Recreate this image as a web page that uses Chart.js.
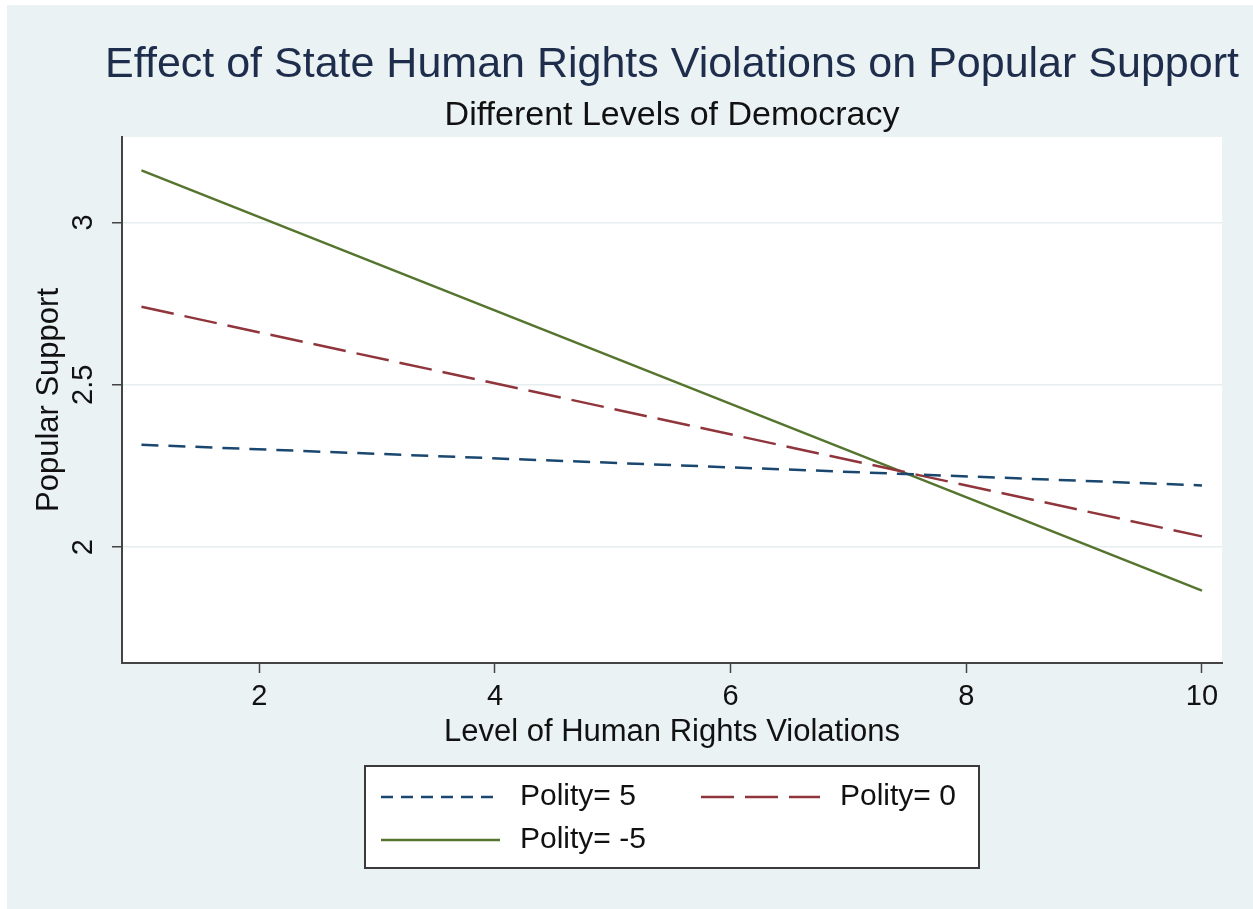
<!DOCTYPE html>
<html>
<head>
<meta charset="utf-8">
<script src="https://cdn.jsdelivr.net/npm/chart.js@4.4.1/dist/chart.umd.min.js"></script>
<style>
    html, body { margin: 0; padding: 0; background: #ffffff; }
    #painel { position: absolute; left: 7px; top: 5px; width: 1246px; height: 904px; background: #eaf2f3; }
</style>
</head>
<body>
<div id="painel"><canvas id="supportChart" width="1246" height="904"></canvas></div>
<script>
// Dados
var xValues = [1, 10];
var polity5 = [2.315, 2.19];
var polity0 = [2.74, 2.033];
var polityNeg5 = [3.16, 1.866];
var seriesNames = ['Polity= 5', 'Polity= 0', 'Polity= -5'];
var xTicks = [2, 4, 6, 8, 10];
var yTicks = [2, 2.5, 3];
var mainTitle = 'Effect of State Human Rights Violations on Popular Support';
var subTitle = 'Different Levels of Democracy';

var fontFamily = '"Liberation Sans", Arial, Helvetica, sans-serif';

function toPoints(values) {
    return values.map(function (v, i) { return { x: xValues[i], y: v }; });
}

// Fundo branco só na área do gráfico
var plotBackground = {
    id: 'plotBackground',
    beforeDraw: function (chart) {
        var a = chart.chartArea;
        chart.ctx.save();
        chart.ctx.fillStyle = '#ffffff';
        chart.ctx.fillRect(a.left, a.top, a.right - a.left, a.bottom - a.top);
        chart.ctx.restore();
    }
};

// Títulos centralizados sobre a área do gráfico (podem passar da largura dela)
var headings = {
    id: 'headings',
    afterDraw: function (chart) {
        var ctx = chart.ctx;
        var cx = (chart.chartArea.left + chart.chartArea.right) / 2;
        ctx.save();
        ctx.textAlign = 'center';
        ctx.textBaseline = 'middle';
        ctx.fillStyle = '#1f2d4d';
        ctx.font = '43px ' + fontFamily;
        ctx.fillText(mainTitle, cx, 60);
        ctx.fillStyle = '#111111';
        ctx.font = '34px ' + fontFamily;
        ctx.fillText(subTitle, cx, 111);
        ctx.restore();
    }
};

// Legenda em caixa, como no Stata
var legendBox = {
    id: 'legendBox',
    afterDraw: function (chart) {
        var ctx = chart.ctx;
        var a = chart.chartArea;
        var w = 614, h = 102;
        var left = (a.left + a.right) / 2 - w / 2;
        var top = a.bottom + 103;
        var slots = [[16, 31], [336, 31], [16, 74]];
        ctx.save();
        ctx.fillStyle = '#ffffff';
        ctx.fillRect(left, top, w, h);
        ctx.strokeStyle = '#3a3a3a';
        ctx.lineWidth = 2;
        ctx.strokeRect(left, top, w, h);
        chart.data.datasets.forEach(function (ds, i) {
            var sx = left + slots[i][0];
            var sy = top + slots[i][1];
            ctx.strokeStyle = ds.borderColor;
            ctx.lineWidth = 2.5;
            ctx.setLineDash(i === 0 ? [12, 8] : (ds.borderDash || []));
            ctx.beginPath();
            ctx.moveTo(sx, sy);
            ctx.lineTo(sx + 119, sy);
            ctx.stroke();
            ctx.setLineDash([]);
            ctx.fillStyle = '#111111';
            ctx.font = '30px ' + fontFamily;
            ctx.textAlign = 'left';
            ctx.textBaseline = 'middle';
            ctx.fillText(ds.label, sx + 139, sy);
        });
        ctx.restore();
    }
};

var ctx = document.getElementById('supportChart').getContext('2d');
var supportChart = new Chart(ctx, {
    type: 'line',
    data: {
        datasets: [{
            label: seriesNames[0],
            data: toPoints(polity5),
            borderColor: '#1a476f',
            borderWidth: 2.5,
            borderDash: [17, 10],
            pointRadius: 0
        }, {
            label: seriesNames[1],
            data: toPoints(polity0),
            borderColor: '#90353b',
            borderWidth: 2.5,
            borderDash: [33, 11],
            pointRadius: 0
        }, {
            label: seriesNames[2],
            data: toPoints(polityNeg5),
            borderColor: '#55752f',
            borderWidth: 2.5,
            pointRadius: 0
        }]
    },
    options: {
        responsive: false,
        animation: false,
        layout: { padding: { top: 132, left: 0, right: 31, bottom: 158 } },
        plugins: {
            legend: { display: false },
            tooltip: { enabled: false },
            title: { display: false },
            subtitle: { display: false }
        },
        scales: {
            x: {
                type: 'linear',
                min: 0.835,
                max: 10.17,
                afterBuildTicks: function (scale) {
                    scale.ticks = xTicks.map(function (v) { return { value: v }; });
                },
                afterFit: function (scale) { scale.height = 88; },
                grid: { drawOnChartArea: false, tickLength: 10, tickColor: '#444444', tickWidth: 1.5 },
                border: { color: '#444444', width: 2 },
                ticks: {
                    color: '#111111',
                    padding: 7,
                    maxRotation: 0,
                    font: { family: fontFamily, size: 29 },
                    callback: function (v) { return String(v); }
                },
                title: {
                    display: true,
                    text: 'Level of Human Rights Violations',
                    color: '#111111',
                    font: { family: fontFamily, size: 31, lineHeight: 1.2 },
                    padding: { top: 0, bottom: 0 }
                }
            },
            y: {
                type: 'linear',
                min: 1.643,
                max: 3.263,
                afterBuildTicks: function (scale) {
                    scale.ticks = yTicks.map(function (v) { return { value: v }; });
                },
                afterFit: function (scale) { scale.width = 115; },
                grid: { color: '#e6eeef', lineWidth: 1.5, tickLength: 10, tickColor: '#444444', tickWidth: 1.5 },
                border: { color: '#444444', width: 2 },
                ticks: {
                    color: '#111111',
                    padding: 8,
                    crossAlign: 'center',
                    minRotation: 90,
                    maxRotation: 90,
                    font: { family: fontFamily, size: 29 },
                    callback: function (v) { return String(v); }
                },
                title: {
                    display: true,
                    text: 'Popular Support',
                    color: '#111111',
                    font: { family: fontFamily, size: 31, lineHeight: 1.2 },
                    padding: { top: 24, bottom: 0 }
                }
            }
        }
    },
    plugins: [plotBackground, headings, legendBox]
});
</script>
</body>
</html>
